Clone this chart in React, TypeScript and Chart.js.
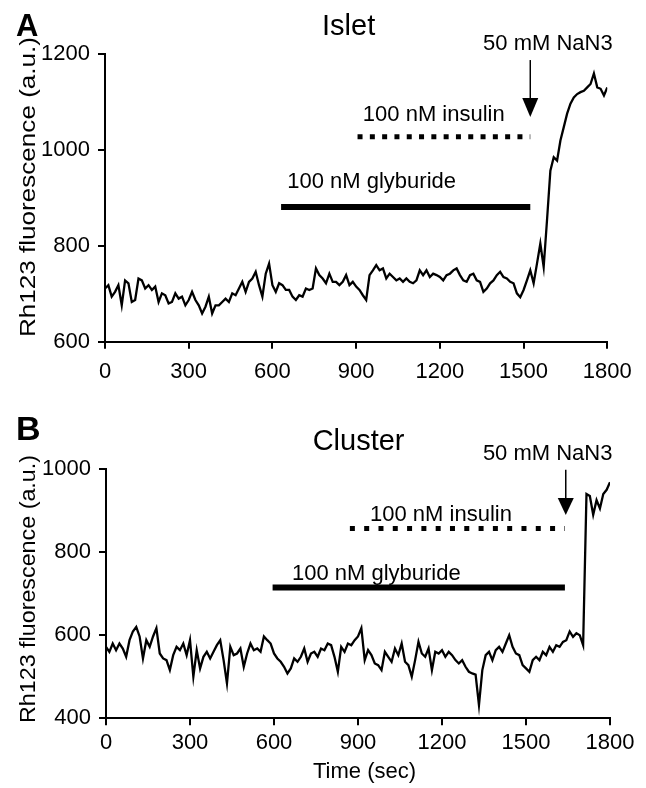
import React, { useEffect, useRef } from 'react';
import { Chart, registerables } from 'chart.js';

Chart.register(...registerables);

// ---- data ----
const timeSec = [
  0, 12, 24, 36, 48, 60, 72, 84, 96, 108, 120, 132, 144, 156, 168, 180, 192, 204, 216, 228,
  240, 252, 264, 276, 288, 300, 312, 324, 336, 348, 360, 372, 384, 396, 408, 420, 432, 444, 456, 468,
  480, 492, 504, 516, 528, 540, 552, 564, 576, 588, 600, 612, 624, 636, 648, 660, 672, 684, 696, 708,
  720, 732, 744, 756, 768, 780, 792, 804, 816, 828, 840, 852, 864, 876, 888, 900, 912, 924, 936, 948,
  960, 972, 984, 996, 1008, 1020, 1032, 1044, 1056, 1068, 1080, 1092, 1104, 1116, 1128, 1140, 1152, 1164, 1176, 1188,
  1200, 1212, 1224, 1236, 1248, 1260, 1272, 1284, 1296, 1308, 1320, 1332, 1344, 1356, 1368, 1380, 1392, 1404, 1416, 1428,
  1440, 1452, 1464, 1476, 1488, 1500, 1512, 1524, 1536, 1548, 1560, 1572, 1584, 1596, 1608, 1620, 1632, 1644, 1656, 1668,
  1680, 1692, 1704, 1716, 1728, 1740, 1752, 1764, 1776, 1788, 1800,
];

const isletRh123 = [
  711, 718, 694, 704, 718, 676, 728, 722, 683, 687,
  732, 728, 711, 718, 708, 715, 683, 701, 697, 680,
  683, 701, 690, 694, 676, 687, 704, 687, 676, 659,
  673, 694, 659, 676, 676, 683, 690, 683, 701, 697,
  711, 725, 704, 725, 732, 746, 718, 694, 742, 763,
  718, 704, 722, 718, 708, 708, 694, 687, 697, 694,
  711, 708, 711, 753, 739, 732, 722, 742, 725, 725,
  718, 725, 739, 718, 725, 715, 708, 697, 687, 739,
  749, 760, 749, 753, 732, 742, 735, 728, 732, 725,
  732, 725, 722, 728, 749, 739, 749, 735, 742, 739,
  735, 728, 739, 742, 749, 753, 739, 728, 725, 739,
  742, 728, 725, 704, 711, 722, 728, 739, 746, 735,
  732, 725, 722, 701, 693, 708, 728, 749, 722, 763,
  805, 756, 854, 957, 985, 978, 1020, 1048, 1076, 1097,
  1110, 1117, 1121, 1124, 1131, 1138, 1160, 1131, 1128, 1114,
  1131,
];

const clusterRh123 = [
  572, 560, 580, 564, 580, 568, 548, 588, 609, 620,
  597, 544, 588, 572, 597, 617, 556, 544, 540, 516,
  552, 572, 564, 580, 552, 588, 500, 564, 520, 548,
  560, 544, 560, 576, 588, 540, 484, 572, 552, 556,
  568, 524, 556, 580, 564, 568, 560, 597, 588, 580,
  556, 544, 536, 524, 508, 520, 544, 536, 548, 568,
  536, 556, 560, 548, 568, 564, 580, 576, 548, 512,
  572, 560, 580, 576, 588, 597, 617, 540, 564, 552,
  532, 528, 516, 560, 548, 536, 568, 552, 580, 536,
  528, 500, 540, 584, 556, 548, 568, 516, 560, 556,
  564, 548, 560, 552, 540, 532, 540, 524, 512, 508,
  505, 432, 516, 552, 560, 540, 564, 572, 560, 580,
  600, 572, 556, 552, 528, 520, 512, 540, 548, 540,
  560, 552, 572, 560, 576, 572, 584, 588, 609, 596,
  605, 600, 576, 940, 935, 890, 925, 905, 940, 950,
  968,
];

const xTickLabels = [0, 300, 600, 900, 1200, 1500, 1800];
const isletYTicks = [600, 800, 1000, 1200];
const clusterYTicks = [400, 600, 800, 1000];

// treatments: [start sec, end sec, level a.u.]
const isletGlyburide = [631, 1524, 881];
const isletInsulin = [905, 1524, 1028];
const isletNaN3 = [1524, 1188, 1109, 1069]; // x, top, head start, tip
const clusterGlyburide = [595, 1639, 715];
const clusterInsulin = [871, 1639, 857];
const clusterNaN3 = [1642, 998, 930, 889];

const FONT = '"Liberation Sans", Arial, Helvetica, sans-serif';

type Panel = {
  letter: string;
  title: string;
  values: number[];
  yTicks: number[];
  yMin: number;
  yMax: number;
  glyb: number[];
  ins: number[];
  nan: number[];
  height: number;
  padTop: number;
  padRight: number;
  yAxisWidth: number;
  xAxisHeight: number;
  xLabelPad: number;
  dash: number[];
  letterBase: number;
  letterSize: number;
  titleX: number;
  titleY: number;
  nanTextX: number;
  nanTextY: number;
  insTextX: number;
  insTextY: number;
  glybTextX: number;
  glybTextY: number;
  yTitleCY: number;
  yTitleLen: number;
  showXTitle: boolean;
};

const panels: Panel[] = [
  {
    letter: 'A', title: 'Islet', values: isletRh123, yTicks: isletYTicks, yMin: 600, yMax: 1200,
    glyb: isletGlyburide, ins: isletInsulin, nan: isletNaN3,
    height: 390, padTop: 54.3, padRight: 38.7, yAxisWidth: 105, xAxisHeight: 48.3, xLabelPad: 10,
    dash: [5, 7.3], letterBase: 36, letterSize: 31,
    titleX: 873, titleY: 1240, nanTextX: 1355, nanTextY: 1209,
    insTextX: 924, insTextY: 1061, glybTextX: 653, glybTextY: 921,
    yTitleCY: 187, yTitleLen: 300, showXTitle: false,
  },
  {
    letter: 'B', title: 'Cluster', values: clusterRh123, yTicks: clusterYTicks, yMin: 400, yMax: 1000,
    glyb: clusterGlyburide, ins: clusterInsulin, nan: clusterNaN3,
    height: 398, padTop: 79, padRight: 36, yAxisWidth: 106, xAxisHeight: 69.7, xLabelPad: 4.5,
    dash: [5, 9.3], letterBase: 50, letterSize: 34,
    titleX: 902, titleY: 1046, nanTextX: 1346, nanTextY: 1022,
    insTextX: 943, insTextY: 875, glybTextX: 664, glybTextY: 733,
    yTitleCY: 199, yTitleLen: 268, showXTitle: true,
  },
];

function makeAnnotPlugin(p: Panel) {
  return {
    id: 'annot' + p.letter,
    afterDatasetsDraw(chart: any) {
      const { ctx } = chart;
      const xs = chart.scales.x;
      const ys = chart.scales.y;
      const X = (v: number) => xs.getPixelForValue(v);
      const Y = (v: number) => ys.getPixelForValue(v);
      ctx.save();
      ctx.fillStyle = '#000';
      ctx.strokeStyle = '#000';

      // glyburide bar
      ctx.lineWidth = 6;
      ctx.lineCap = 'butt';
      ctx.beginPath();
      ctx.moveTo(X(p.glyb[0]), Y(p.glyb[2]));
      ctx.lineTo(X(p.glyb[1]), Y(p.glyb[2]));
      ctx.stroke();

      // insulin dotted
      ctx.lineWidth = 5;
      ctx.setLineDash(p.dash);
      ctx.beginPath();
      ctx.moveTo(X(p.ins[0]), Y(p.ins[2]));
      ctx.lineTo(X(p.ins[1]), Y(p.ins[2]));
      ctx.stroke();
      ctx.setLineDash([]);

      // NaN3 arrow
      const ax = X(p.nan[0]);
      ctx.lineWidth = 1.5;
      ctx.beginPath();
      ctx.moveTo(ax, Y(p.nan[1]));
      ctx.lineTo(ax, Y(p.nan[2]) + 1);
      ctx.stroke();
      ctx.beginPath();
      ctx.moveTo(ax - 8, Y(p.nan[2]));
      ctx.lineTo(ax + 8, Y(p.nan[2]));
      ctx.lineTo(ax, Y(p.nan[3]));
      ctx.closePath();
      ctx.fill();

      // texts
      ctx.textBaseline = 'alphabetic';
      ctx.font = `22px ${FONT}`;
      ctx.textAlign = 'left';
      ctx.fillText('50 mM NaN3', X(p.nanTextX), Y(p.nanTextY));
      ctx.fillText('100 nM insulin', X(p.insTextX), Y(p.insTextY));
      ctx.fillText('100 nM glyburide', X(p.glybTextX), Y(p.glybTextY));

      ctx.font = `29px ${FONT}`;
      ctx.textAlign = 'center';
      ctx.fillText(p.title, X(p.titleX), Y(p.titleY));

      ctx.font = `bold ${p.letterSize}px ${FONT}`;
      ctx.textAlign = 'left';
      ctx.fillText(p.letter, 16, p.letterBase);

      // y title, stretched to the reference length
      ctx.save();
      ctx.font = `22px ${FONT}`;
      const txt = 'Rh123 fluorescence (a.u.)';
      const w = ctx.measureText(txt).width;
      ctx.translate(28.5, p.yTitleCY);
      ctx.rotate(-Math.PI / 2);
      ctx.scale(p.yTitleLen / w, 1);
      ctx.textAlign = 'center';
      ctx.textBaseline = 'middle';
      ctx.fillText(txt, 0, 0);
      ctx.restore();

      if (p.showXTitle) {
        ctx.font = `22px ${FONT}`;
        ctx.textAlign = 'center';
        ctx.fillText('Time (sec)', 364.5, 388);
      }
      ctx.restore();
    },
  };
}

function PanelChart({ p }: { p: Panel }) {
  const ref = useRef<HTMLCanvasElement | null>(null);
  useEffect(() => {
    if (!ref.current) return;
    const chart = new Chart(ref.current, {
      type: 'line',
      data: {
        datasets: [
          {
            data: timeSec.map((t, i) => ({ x: t, y: p.values[i] })),
            borderColor: '#000',
            borderWidth: 2.3,
            pointRadius: 0,
            tension: 0,
            fill: false,
          },
        ],
      },
      options: {
        animation: false,
        responsive: false,
        maintainAspectRatio: false,
        devicePixelRatio: 1,
        layout: { padding: { top: p.padTop, right: p.padRight, left: 0, bottom: 0 } },
        plugins: { legend: { display: false }, tooltip: { enabled: false }, title: { display: false } },
        scales: {
          x: {
            type: 'linear',
            min: 0,
            max: 1800,
            afterBuildTicks: (s: any) => {
              s.ticks = xTickLabels.map((v) => ({ value: v }));
            },
            afterFit: (s: any) => {
              s.height = p.xAxisHeight;
            },
            ticks: {
              color: '#000',
              padding: p.xLabelPad,
              maxRotation: 0,
              autoSkip: false,
              font: { family: FONT, size: 22 },
              callback: (v: any) => String(v),
            },
            grid: { drawOnChartArea: false, drawTicks: true, tickLength: 7, color: '#000', lineWidth: 2 },
            border: { display: true, color: '#000', width: 2 },
          },
          y: {
            type: 'linear',
            min: p.yMin,
            max: p.yMax,
            afterBuildTicks: (s: any) => {
              s.ticks = p.yTicks.map((v) => ({ value: v }));
            },
            afterFit: (s: any) => {
              s.width = p.yAxisWidth;
            },
            ticks: {
              color: '#000',
              padding: 8,
              autoSkip: false,
              font: { family: FONT, size: 22 },
              callback: (v: any) => String(v),
            },
            grid: { drawOnChartArea: false, drawTicks: true, tickLength: 7, color: '#000', lineWidth: 2 },
            border: { display: true, color: '#000', width: 2 },
          },
        },
      } as any,
      plugins: [makeAnnotPlugin(p)],
    });
    return () => chart.destroy();
  }, [p]);
  return <canvas ref={ref} width={646} height={p.height} style={{ display: 'block', width: 646, height: p.height }} />;
}

export default function App() {
  return (
    <div style={{ position: 'absolute', top: 0, left: 0, width: 646, height: 788, background: '#fff' }}>
      <PanelChart p={panels[0]} />
      <PanelChart p={panels[1]} />
    </div>
  );
}
